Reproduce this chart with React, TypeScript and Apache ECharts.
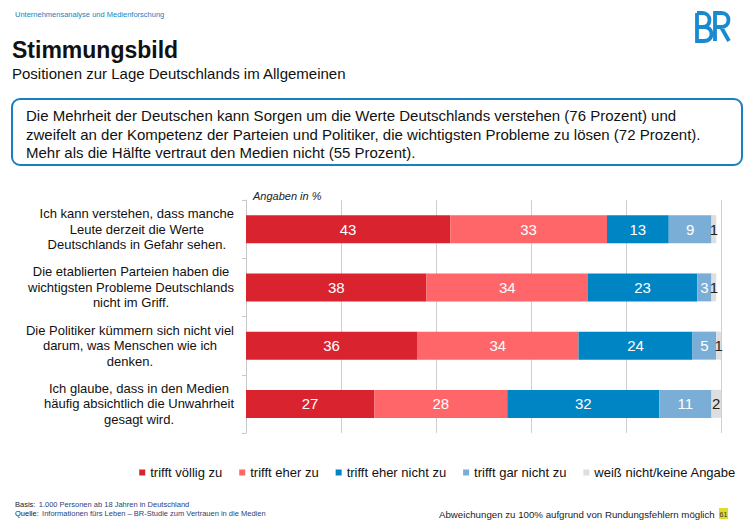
import React, { useEffect, useRef } from "react";
import * as echarts from "echarts";

const categories = [
  "Ich kann verstehen, dass manche\nLeute derzeit die Werte\nDeutschlands in Gefahr sehen.",
  "Die etablierten Parteien haben die\nwichtigsten Probleme Deutschlands\nnicht im Griff.",
  "Die Politiker kümmern sich nicht viel\ndarum, was Menschen wie ich\ndenken.",
  "Ich glaube, dass in den Medien\nhäufig absichtlich die Unwahrheit\ngesagt wird.",
];
const seriesNames = [
  "trifft völlig zu",
  "trifft eher zu",
  "trifft eher nicht zu",
  "trifft gar nicht zu",
  "weiß nicht/keine Angabe",
];
const trifftVoellig = [43, 38, 36, 27];
const trifftEher = [33, 34, 34, 28];
const trifftEherNicht = [13, 23, 24, 32];
const trifftGarNicht = [9, 3, 5, 11];
const weissNicht = [1, 1, 1, 2];
const seriesValues = [trifftVoellig, trifftEher, trifftEherNicht, trifftGarNicht, weissNicht];
const colors = ["#d9232f", "#fe6669", "#0085c4", "#7aaed6", "#dedede"];

const FONT = "'Liberation Sans', Arial, Helvetica, sans-serif";

const logoPath =
  "M3 1 V29 H9.5 C15 29 17.5 26 17.5 22 C17.5 17.5 14.5 15 9.5 15 H3 M3 15 H8.5 C13 15 15.5 12 15.5 8 C15.5 4 12.5 1 8.5 1 H3 " +
  "M21 29 V1 H27.5 C32 1 34.5 4 34.5 8 C34.5 12 31.5 15 27 15 H21 M27 15 L35 29";

let registered = false;

export default function App() {
  const ref = useRef<HTMLDivElement>(null);

  useEffect(() => {
    if (!ref.current) return;
    if (!registered) {
      echarts.graphic.registerShape("brlogo", echarts.graphic.extendPath(logoPath, {}));
      registered = true;
    }
    const chart = echarts.init(ref.current, null, { renderer: "svg" });

    const series = seriesNames.map((name, i) => ({
      name,
      type: "bar",
      stack: "total",
      barWidth: 28,
      data: seriesValues[i],
      itemStyle: { color: colors[i] },
      label: {
        show: true,
        position: "inside",
        color: i === 4 ? "#222" : "#fff",
        fontSize: 15,
        fontFamily: FONT,
      },
    }));

    chart.setOption({
      animation: false,
      textStyle: { fontFamily: FONT },
      grid: { left: 246, right: 30, top: 200, bottom: 99, containLabel: false },
      xAxis: {
        type: "value",
        min: 0,
        max: 100,
        interval: 20,
        axisLine: { show: false },
        axisTick: { show: false },
        axisLabel: { show: false },
        splitLine: { show: true, lineStyle: { color: "#cfcfcf", width: 1 } },
      },
      yAxis: {
        type: "category",
        data: categories,
        inverse: true,
        axisLine: { show: true, lineStyle: { color: "#c8c8c8" } },
        axisTick: { show: true, length: 4, lineStyle: { color: "#c8c8c8" } },
        axisLabel: {
          align: "right",
          margin: 12,
          formatter: (v: string) =>
            v
              .split("\n")
              .map((l) => `{c|${l}}`)
              .join("\n"),
          rich: {
            c: {
              align: "center",
              fontSize: 13,
              lineHeight: 15.5,
              color: "#111",
              fontFamily: FONT,
            },
          },
        },
      },
      legend: {
        data: seriesNames,
        top: 461,
        right: 10,
        icon: "rect",
        itemWidth: 6,
        itemHeight: 6,
        itemGap: 17,
        textStyle: { fontSize: 13, color: "#111", fontFamily: FONT },
      },
      graphic: [
        {
          type: "text",
          left: 15,
          top: 10,
          style: { text: "Unternehmensanalyse und Medienforschung", fontSize: 7.5, fill: "#1a7fc1", fontFamily: FONT },
        },
        {
          type: "brlogo",
          x: 694,
          y: 12,
          scaleX: 1,
          scaleY: 1,
          style: { fill: "none", stroke: "#1a8ad0", lineWidth: 3.8 },
        },
        {
          type: "text",
          x: 12,
          y: 50,
          style: { text: "Stimmungsbild", fontSize: 23, fontWeight: "bold", fill: "#111", fontFamily: FONT, verticalAlign: "middle" },
        },
        {
          type: "text",
          x: 12,
          y: 73,
          style: { text: "Positionen zur Lage Deutschlands im Allgemeinen", fontSize: 15, fill: "#111", fontFamily: FONT, verticalAlign: "middle" },
        },
        {
          type: "rect",
          shape: { x: 12, y: 99, width: 730, height: 66, r: 8 },
          style: { fill: "none", stroke: "#1a7fc1", lineWidth: 2 },
        },
        {
          type: "text",
          x: 26,
          y: 115.5,
          style: { text: "Die Mehrheit der Deutschen kann Sorgen um die Werte Deutschlands verstehen (76 Prozent) und", fontSize: 15, fill: "#111", fontFamily: FONT, verticalAlign: "middle" },
        },
        {
          type: "text",
          x: 26,
          y: 134,
          style: { text: "zweifelt an der Kompetenz der Parteien und Politiker, die wichtigsten Probleme zu lösen (72 Prozent).", fontSize: 15, fill: "#111", fontFamily: FONT, verticalAlign: "middle" },
        },
        {
          type: "text",
          x: 26,
          y: 152.5,
          style: { text: "Mehr als die Hälfte vertraut den Medien nicht (55 Prozent).", fontSize: 15, fill: "#111", fontFamily: FONT, verticalAlign: "middle" },
        },
        {
          type: "text",
          x: 253,
          y: 196,
          style: { text: "Angaben in %", fontSize: 11, fontStyle: "italic", fill: "#222", fontFamily: FONT, verticalAlign: "middle" },
        },
        {
          type: "text",
          x: 15,
          y: 504,
          style: {
            text: "{b|Basis:} {v|1.000 Personen ab 18 Jahren in Deutschland}",
            fontFamily: FONT,
            verticalAlign: "middle",
            rich: {
              b: { fontSize: 7.5, fill: "#222", fontFamily: FONT },
              v: { fontSize: 7.5, fill: "#2a3f78", fontFamily: FONT },
            },
          },
        },
        {
          type: "text",
          x: 15,
          y: 513,
          style: {
            text: "{b|Quelle:} {v|Informationen fürs Leben – BR-Studie zum Vertrauen in die Medien}",
            fontFamily: FONT,
            verticalAlign: "middle",
            rich: {
              b: { fontSize: 7.5, fill: "#222", fontFamily: FONT },
              v: { fontSize: 7.5, fill: "#2a3f78", fontFamily: FONT },
            },
          },
        },
        {
          type: "text",
          x: 439,
          y: 514,
          style: { text: "Abweichungen zu 100% aufgrund von Rundungsfehlern möglich", fontSize: 9.7, fill: "#222", fontFamily: FONT, verticalAlign: "middle" },
        },
        {
          type: "rect",
          shape: { x: 719, y: 508, width: 9, height: 11 },
          style: { fill: "#dedd2c" },
        },
        {
          type: "text",
          x: 723.5,
          y: 514,
          style: { text: "61", fontSize: 7, fill: "#333", fontFamily: FONT, align: "center", verticalAlign: "middle" },
        },
      ],
      series,
    });

    return () => chart.dispose();
  }, []);

  return (
    <div
      ref={ref}
      style={{ position: "absolute", left: 0, top: 0, width: 751, height: 532, background: "#fff" }}
    />
  );
}
